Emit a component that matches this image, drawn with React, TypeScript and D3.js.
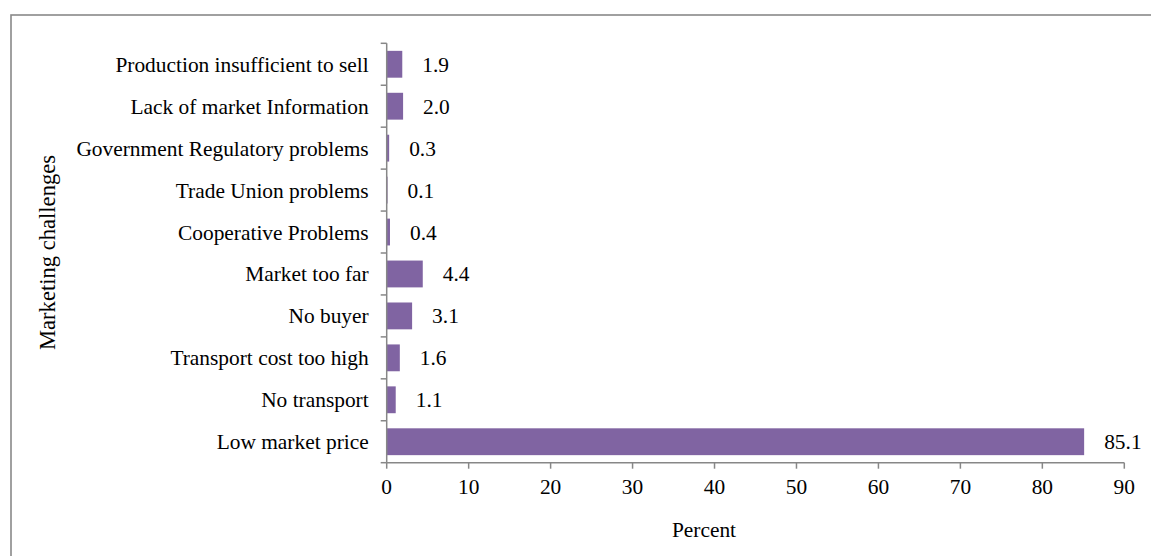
import React from "react";
import * as d3 from "d3";

const categories = [
  "Production insufficient to sell",
  "Lack of market Information",
  "Government Regulatory problems",
  "Trade Union problems",
  "Cooperative Problems",
  "Market too far",
  "No buyer",
  "Transport cost too high",
  "No transport",
  "Low market price",
];
const values = [1.9, 2.0, 0.3, 0.1, 0.4, 4.4, 3.1, 1.6, 1.1, 85.1];
const xTicks = [0, 10, 20, 30, 40, 50, 60, 70, 80, 90];

const W = 1151;
const H = 556;
const axisColor = "#878787";
const barColor = "#8064A2";
const font = "'Liberation Serif', 'Times New Roman', serif";
const fs = 21.4;

export default function App() {
  const x = d3.scaleLinear().domain([0, 90]).range([386.7, 1124.3]);
  const y = d3
    .scaleBand<string>()
    .domain(categories)
    .range([43.3, 462.7])
    .paddingInner(0.36)
    .paddingOuter(0.18);
  const step = y.step();
  const top = 43.3;
  const bottom = 462.7;
  const boundaries = d3.range(categories.length + 1).map((i) => top + i * step);

  return (
    <svg
      width={W}
      height={H}
      style={{ position: "absolute", left: 0, top: 0, background: "#fff" }}
      fontFamily={font}
    >
      <rect x={11} y={15} width={1300} height={700} fill="#fff" stroke="#898989" strokeWidth={1.6} />
      {categories.map((c, i) => (
        <rect
          key={c}
          x={x(0)}
          y={y(c)!}
          width={x(values[i]) - x(0)}
          height={y.bandwidth()}
          fill={barColor}
        />
      ))}
      {categories.map((c, i) => (
        <text
          key={"v" + c}
          x={x(values[i]) + 20}
          y={y(c)! + y.bandwidth() / 2}
          dy="0.35em"
          fontSize={fs}
          fill="#000"
        >
          {values[i].toFixed(1)}
        </text>
      ))}
      <line x1={x(0)} x2={x(0)} y1={top} y2={bottom} stroke={axisColor} strokeWidth={1.5} />
      {boundaries.map((b, i) => (
        <line key={"yt" + i} x1={x(0) - 6} x2={x(0)} y1={b} y2={b} stroke={axisColor} strokeWidth={1.5} />
      ))}
      {categories.map((c) => (
        <text
          key={"yl" + c}
          x={x(0) - 18}
          y={y(c)! + y.bandwidth() / 2}
          dy="0.35em"
          textAnchor="end"
          fontSize={fs}
          fill="#000"
        >
          {c}
        </text>
      ))}
      <line x1={x(0)} x2={x(90)} y1={bottom} y2={bottom} stroke={axisColor} strokeWidth={1.5} />
      {xTicks.map((t) => (
        <g key={"xt" + t}>
          <line x1={x(t)} x2={x(t)} y1={bottom} y2={bottom + 6} stroke={axisColor} strokeWidth={1.5} />
          <text x={x(t)} y={494} textAnchor="middle" fontSize={fs} fill="#000">
            {t}
          </text>
        </g>
      ))}
      <text x={704} y={537} textAnchor="middle" fontSize={fs} fill="#000">
        Percent
      </text>
      <text
        transform={`translate(55, 252.5) rotate(-90)`}
        textAnchor="middle"
        fontSize={22.6}
        fill="#000"
      >
        Marketing challenges
      </text>
    </svg>
  );
}
